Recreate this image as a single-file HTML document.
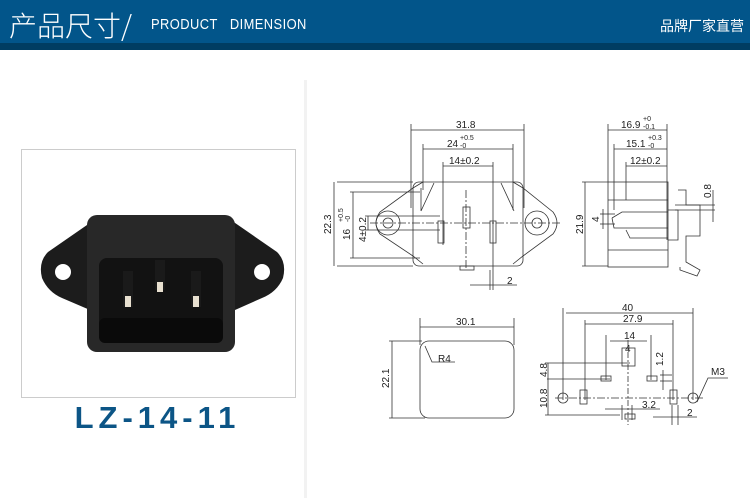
<!DOCTYPE html>
<html><head><meta charset="utf-8"><style>
body{margin:0;width:750px;height:498px;background:#fff;overflow:hidden;position:relative;font-family:"Liberation Sans","Noto Sans CJK SC",sans-serif}
.hd{position:absolute;left:0;top:0;width:750px;height:43px;background:#02558a}
.hd2{position:absolute;left:0;top:43px;width:750px;height:7px;background:#003d62}
.t1{position:absolute;left:9px;top:5px;color:#fff;font-size:28px;font-family:"Noto Sans CJK SC",sans-serif;font-weight:300}
.t2{position:absolute;left:151px;top:16px;color:#fff;font-size:15px;letter-spacing:0.5px;transform:scaleX(0.86);transform-origin:0 0;white-space:nowrap}
.t3{position:absolute;right:6px;top:16px;color:#fff;font-size:14px;font-family:"Noto Sans CJK SC",sans-serif}
.sep{position:absolute;left:304px;top:80px;width:3px;height:418px;background:#f2f2f2}
.box{position:absolute;left:21px;top:149px;width:273px;height:247px;border:1px solid #ccc;background:#fff}
.lz{position:absolute;left:0;width:315px;top:400px;text-align:center;color:#0c5586;font-weight:bold;font-size:31px;letter-spacing:5px}
</style></head><body>
<div class="hd"></div><div class="hd2"></div>
<div class="t1">产品尺寸/</div>
<div class="t2">PRODUCT&nbsp;&nbsp; DIMENSION</div>
<div class="t3">品牌厂家直营</div>
<div class="sep"></div>
<div class="box"></div>
<svg style="position:absolute;left:0;top:0" width="750" height="498">
<g>
<path d="M100,216 L48,252 Q38,262 42,278 Q48,292 62,298 L90,310 L235,310 L262,298 Q277,292 283,278 Q287,262 277,252 L225,216Z" fill="#1c1c1c"/>
<rect x="87" y="215" width="148" height="137" rx="10" fill="#282828"/>
<rect x="99" y="258" width="124" height="85" rx="8" fill="#121212"/>
<rect x="99" y="318" width="124" height="25" rx="6" fill="#0a0a0a"/>
<circle cx="63" cy="272" r="8" fill="#fff"/><circle cx="262" cy="272" r="8" fill="#fff"/>
<rect x="123" y="271" width="10" height="36" fill="#1a1a1a"/><rect x="155" y="260" width="10" height="30" fill="#1a1a1a"/><rect x="191" y="271" width="10" height="36" fill="#1a1a1a"/>
<rect x="125" y="296" width="6" height="11" fill="#e8e0d0"/><rect x="157" y="282" width="6" height="10" fill="#e8e0d0"/><rect x="193" y="296" width="6" height="11" fill="#e8e0d0"/>
</g>
<g fill="none" stroke="#333" stroke-width="0.8">
<line x1="411" y1="124" x2="411" y2="208"/><line x1="524" y1="124" x2="524" y2="208"/>
<line x1="411" y1="130" x2="524" y2="130"/>
<line x1="423" y1="144" x2="423" y2="190"/><line x1="513" y1="144" x2="513" y2="210"/>
<line x1="423" y1="149" x2="513" y2="149"/>
<line x1="443" y1="162" x2="443" y2="245"/><line x1="493" y1="162" x2="493" y2="290"/>
<line x1="443" y1="166" x2="493" y2="166"/>
<path d="M423,182 L413,188 L380,212 Q372,223 380,234 L413,256 L423,264"/>
<path d="M513,182 L523,188 L553,212 Q561,223 553,234 L523,256 L513,264"/>
<rect x="413" y="182" width="110" height="84" rx="6"/>
<path d="M421,211 L434,183 M514,211 L501,183 M421,211 L421,188"/>
<circle cx="388" cy="223" r="12"/><circle cx="388" cy="223" r="5"/>
<circle cx="537" cy="223" r="12"/><circle cx="537" cy="223" r="5"/>
<line x1="370" y1="223" x2="560" y2="223" stroke-dasharray="8 2 2 2"/>
<line x1="466" y1="190" x2="466" y2="270" stroke-dasharray="8 2 2 2"/>
<rect x="438" y="221" width="6" height="22"/><rect x="463" y="207" width="7" height="21"/><rect x="490" y="221" width="6" height="22"/>
<rect x="460" y="266" width="14" height="4"/>
<line x1="337" y1="182" x2="413" y2="182"/><line x1="337" y1="266" x2="413" y2="266"/>
<line x1="334" y1="182" x2="334" y2="266"/>
<line x1="350" y1="192" x2="420" y2="192"/><line x1="350" y1="258" x2="420" y2="258"/>
<line x1="353" y1="192" x2="353" y2="258"/>
<line x1="365" y1="216" x2="440" y2="216"/><line x1="365" y1="230" x2="440" y2="230"/>
<line x1="368" y1="216" x2="368" y2="230"/>
<line x1="470" y1="285" x2="517" y2="285"/><line x1="490" y1="270" x2="490" y2="290"/>
<line x1="608" y1="124" x2="608" y2="182"/><line x1="667" y1="124" x2="667" y2="240"/>
<line x1="608" y1="130" x2="667" y2="130"/>
<line x1="614" y1="144" x2="614" y2="210"/><line x1="614" y1="149" x2="667" y2="149"/>
<line x1="626" y1="162" x2="626" y2="200"/><line x1="626" y1="166" x2="667" y2="166"/>
<rect x="608" y="182" width="60" height="85"/>
<line x1="608" y1="200" x2="668" y2="200"/><line x1="608" y1="250" x2="668" y2="250"/>
<path d="M612,218 L622,212 L668,212 M612,218 L614,228 L668,228 M626,230 L630,238 L668,238"/>
<path d="M668,210 L678,210 L678,240 L668,240 M678,190 L686,190 L686,205 L700,205 L700,236 L686,236 L686,262 L700,270 L697,276 L680,270 L680,267"/>
<line x1="675" y1="205" x2="715" y2="205"/><line x1="675" y1="210" x2="715" y2="210"/>
<line x1="713" y1="190" x2="713" y2="222"/>
<line x1="582" y1="182" x2="608" y2="182"/><line x1="582" y1="266" x2="608" y2="266"/>
<line x1="585" y1="182" x2="585" y2="266"/>
<line x1="600" y1="214" x2="615" y2="214"/><line x1="600" y1="224" x2="615" y2="224"/>
<line x1="603" y1="209" x2="603" y2="229"/>
<line x1="420" y1="318" x2="420" y2="345"/><line x1="514" y1="318" x2="514" y2="345"/>
<line x1="420" y1="327" x2="514" y2="327"/>
<rect x="420" y="341" width="94" height="77" rx="9"/>
<line x1="389" y1="341" x2="422" y2="341"/><line x1="389" y1="418" x2="425" y2="418"/>
<line x1="392" y1="341" x2="392" y2="418"/>
<path d="M425,346 L432,362 L455,362"/>
<line x1="563" y1="308" x2="563" y2="400"/><line x1="693" y1="308" x2="693" y2="400"/>
<line x1="566" y1="313" x2="693" y2="313"/>
<line x1="585" y1="320" x2="585" y2="400"/><line x1="673" y1="320" x2="673" y2="400"/>
<line x1="585" y1="324" x2="673" y2="324"/>
<line x1="606" y1="335" x2="606" y2="380"/><line x1="651" y1="335" x2="651" y2="380"/>
<line x1="610" y1="341" x2="647" y2="341"/>
<rect x="622" y="348" width="13" height="18"/>
<line x1="628" y1="340" x2="628" y2="425" stroke-dasharray="6 2 2 2"/>
<line x1="545" y1="363" x2="630" y2="363"/><line x1="547" y1="379" x2="610" y2="379"/>
<line x1="545" y1="415" x2="620" y2="415"/>
<line x1="548" y1="363" x2="548" y2="415"/>
<rect x="601" y="376" width="10" height="5"/><rect x="647" y="376" width="10" height="5"/><rect x="625" y="414" width="10" height="5"/>
<line x1="555" y1="398" x2="705" y2="398" stroke-dasharray="8 2 2 2"/>
<circle cx="563" cy="398" r="5"/><circle cx="693" cy="398" r="5"/>
<rect x="580" y="390" width="7" height="14"/><rect x="670" y="390" width="7" height="14"/>
<line x1="663" y1="370" x2="663" y2="390"/><line x1="660" y1="375" x2="672" y2="375"/><line x1="660" y1="381" x2="672" y2="381"/>
<line x1="605" y1="409" x2="660" y2="409"/>
<line x1="622" y1="405" x2="622" y2="420"/><line x1="632" y1="405" x2="632" y2="420"/>
<line x1="653" y1="417" x2="697" y2="417"/>
<line x1="672" y1="405" x2="672" y2="425"/><line x1="678" y1="405" x2="678" y2="425"/>
<path d="M697,402 L708,378 L728,378"/>
</g>
<g font-family="Liberation Sans,sans-serif" font-size="10" fill="#222">
<text x="456" y="128">31.8</text>
<text x="447" y="147">24</text><text x="460" y="140" font-size="7">+0.5</text><text x="460" y="148" font-size="7">-0</text>
<text x="449" y="164">14±0.2</text>
<text x="507" y="284">2</text>
<text transform="translate(331,234) rotate(-90)">22.3</text>
<text transform="translate(350,240) rotate(-90)">16</text><text transform="translate(343,222) rotate(-90)" font-size="7">+0.5</text><text transform="translate(350,222) rotate(-90)" font-size="7">-0</text>
<text transform="translate(366,242) rotate(-90)">4±0.2</text>
<text x="621" y="128">16.9</text><text x="643" y="121" font-size="7">+0</text><text x="643" y="129" font-size="7">-0.1</text>
<text x="626" y="147">15.1</text><text x="648" y="140" font-size="7">+0.3</text><text x="648" y="148" font-size="7">-0</text>
<text x="630" y="164">12±0.2</text>
<text transform="translate(583,234) rotate(-90)">21.9</text>
<text transform="translate(599,222) rotate(-90)">4</text>
<text transform="translate(711,198) rotate(-90)">0.8</text>
<text x="456" y="325">30.1</text>
<text x="438" y="362">R4</text>
<text transform="translate(389,388) rotate(-90)">22.1</text>
<text x="622" y="311">40</text>
<text x="623" y="322">27.9</text>
<text x="624" y="339">14</text>
<text x="625" y="352">4</text>
<text transform="translate(547,377) rotate(-90)">4.8</text>
<text transform="translate(547,408) rotate(-90)">10.8</text>
<text transform="translate(663,366) rotate(-90)">1.2</text>
<text x="642" y="408">3.2</text>
<text x="687" y="416">2</text>
<text x="711" y="375">M3</text>
</g>
</svg>
<div class="lz">LZ-14-11</div>
</body></html>
